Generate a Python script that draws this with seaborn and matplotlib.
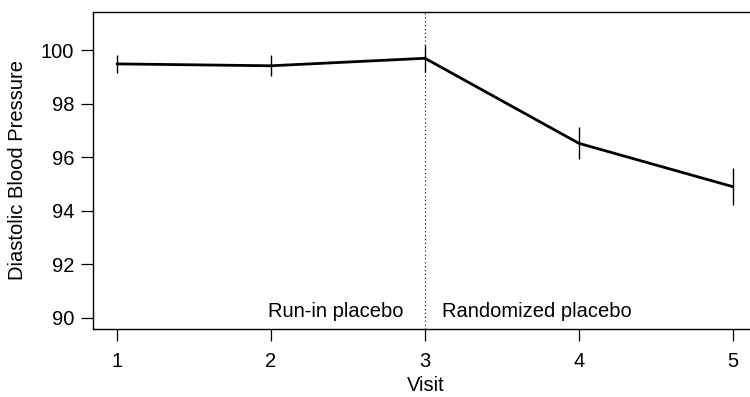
import matplotlib
matplotlib.use("Agg")
import matplotlib.pyplot as plt
import seaborn as sns
import pandas as pd

visits = [1, 2, 3, 4, 5]
mean_dbp = [99.49, 99.42, 99.70, 96.52, 94.90]
err_dbp = [0.33, 0.40, 0.50, 0.60, 0.70]
y_ticks = [90, 92, 94, 96, 98, 100]
x_ticks = [1, 2, 3, 4, 5]
phase_labels = ["Run-in placebo", "Randomized placebo"]

sns.set_theme(style="ticks")
plt.rcParams["font.family"] = ["Liberation Sans", "DejaVu Sans"]
plt.rcParams["text.color"] = "black"
plt.rcParams["axes.labelcolor"] = "black"

FS = 14.5

df = pd.DataFrame({"Visit": visits, "DBP": mean_dbp, "err": err_dbp})

fig = plt.figure(figsize=(7.5, 3.97), dpi=100)
ax = fig.add_axes([93 / 750, 1 - 329 / 397, 665 / 750, 317 / 397])

sns.lineplot(data=df, x="Visit", y="DBP", ax=ax, color="black", linewidth=2.0,
             errorbar=None, zorder=3)
ax.vlines(df["Visit"], df["DBP"] - df["err"], df["DBP"] + df["err"],
          color="black", linewidth=1.0, zorder=3)
ax.axvline(3, color="black", linestyle=(0, (1, 2.5)), linewidth=0.8, zorder=2)

ax.text(2.86, 90.25, phase_labels[0], ha="right", va="center", fontsize=FS)
ax.text(3.11, 90.25, phase_labels[1], ha="left", va="center", fontsize=FS)

ax.set_xlim(0.844, 5.163)
ax.set_ylim(89.58, 101.43)
ax.set_xticks(x_ticks)
ax.set_yticks(y_ticks)
ax.tick_params(axis="both", direction="out", length=8.5, width=0.9, color="black",
               labelsize=FS, labelcolor="black")
ax.tick_params(axis="y", pad=5)
ax.tick_params(axis="x", pad=8)
for s in ax.spines.values():
    s.set_visible(True)
    s.set_color("black")
    s.set_linewidth(1.0)
ax.spines["right"].set_visible(False)
ax.set_xlabel("Visit", fontsize=FS, color="black", labelpad=4)
ax.set_ylabel("Diastolic Blood Pressure", fontsize=FS, color="black", labelpad=10)

fig.savefig("out.png", dpi=100)
